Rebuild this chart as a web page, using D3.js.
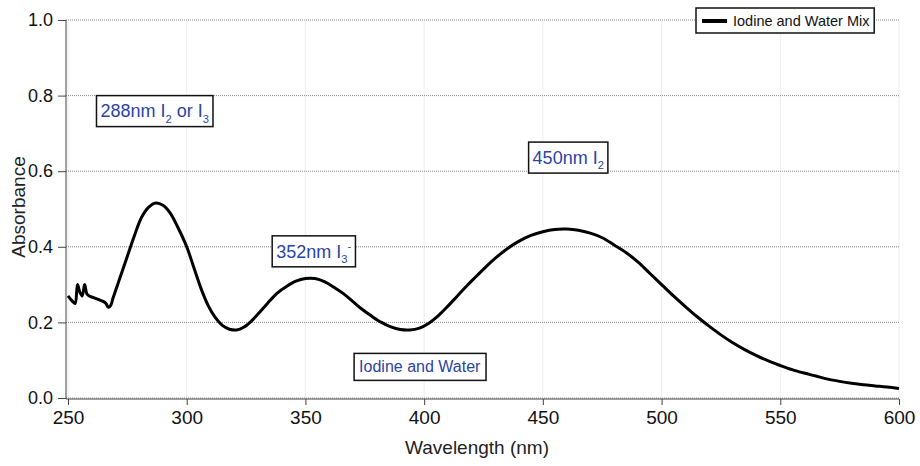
<!DOCTYPE html>
<html>
<head>
<meta charset="utf-8">
<script src="https://cdn.jsdelivr.net/npm/d3@7"></script>
<style>
  body { margin: 0; background: #fff; }
  text { font-family: "Liberation Sans", Arial, sans-serif; }
</style>
</head>
<body>
<svg width="920" height="466"></svg>
<script>
// spectrum
var wavelength = [250, 251, 252, 253, 254, 255, 256, 257, 258, 259, 261, 263, 265, 266, 267, 268, 269, 272, 275, 278,
  281, 284, 287, 290, 293, 296, 300, 303, 306, 309, 312, 315, 318, 321, 324, 327, 330, 334, 338, 342,
  346, 350, 354, 358, 362, 366, 370, 374, 378, 382, 386, 390, 394, 398, 402, 406, 410, 414, 418, 422,
  426, 430, 435, 440, 445, 450, 455, 460, 465, 470, 475, 480, 485, 490, 495, 500, 505, 510, 515, 520,
  525, 530, 535, 540, 545, 550, 555, 560, 565, 570, 575, 580, 585, 590, 595, 600];
var absorbance = [0.27, 0.262, 0.255, 0.25, 0.30, 0.28, 0.27, 0.30, 0.275, 0.27, 0.265, 0.26, 0.255, 0.25, 0.24, 0.245, 0.265, 0.32, 0.375, 0.43,
  0.478, 0.505, 0.516, 0.51, 0.49, 0.455, 0.40, 0.345, 0.29, 0.245, 0.213, 0.192, 0.182, 0.18, 0.187, 0.202, 0.222, 0.25, 0.277, 0.295,
  0.309, 0.316, 0.316, 0.308, 0.293, 0.276, 0.255, 0.234, 0.216, 0.2, 0.188, 0.181, 0.18, 0.185, 0.198, 0.218, 0.243, 0.27, 0.297, 0.322,
  0.347, 0.37, 0.395, 0.415, 0.43, 0.44, 0.446, 0.447, 0.444, 0.436, 0.424, 0.405, 0.385, 0.36, 0.33, 0.30, 0.27, 0.242, 0.215, 0.19,
  0.167, 0.146, 0.128, 0.112, 0.098, 0.086, 0.075, 0.066, 0.058, 0.05, 0.044, 0.039, 0.035, 0.032, 0.029, 0.025];

var xTicks = [250, 300, 350, 400, 450, 500, 550, 600];
var yTicks = [0.0, 0.2, 0.4, 0.6, 0.8, 1.0];

// annotation boxes: [nm, absorbance] of top-left corner, and text parts
var noteX = [262, 336, 444, 370.5];
var noteY = [0.80, 0.429, 0.677, 0.118];
var noteParts = [
  [["288nm I", ""], ["2", "sub"], [" or I", ""], ["3", "sub"]],
  [["352nm I", ""], ["3", "sub"], ["-", "sup"]],
  [["450nm I", ""], ["2", "sub"]],
  [["Iodine and Water", ""]]
];
var noteSize = [18, 18, 18, 16];
var seriesName = "Iodine and Water Mix";

var svg = d3.select("svg"),
    width = +svg.attr("width"),
    height = +svg.attr("height");

var margin = {left: 68, right: 21, top: 20, bottom: 68};

var x = d3.scaleLinear().domain([250, 600]).range([margin.left, width - margin.right]);
var y = d3.scaleLinear().domain([0, 1]).range([height - margin.bottom, margin.top]);

// vertical grid
svg.append("g")
  .selectAll("line")
  .data(xTicks)
  .enter().append("line")
    .attr("x1", function(d) { return x(d); })
    .attr("x2", function(d) { return x(d); })
    .attr("y1", y(1))
    .attr("y2", y(0))
    .style("stroke", "#ededed")
    .style("stroke-width", 1);

// horizontal dotted grid
svg.append("g")
  .selectAll("line")
  .data(yTicks)
  .enter().append("line")
    .attr("x1", margin.left - 2)
    .attr("x2", x(600))
    .attr("y1", function(d) { return y(d); })
    .attr("y2", function(d) { return y(d); })
    .style("stroke", "#8a8a8a")
    .style("stroke-width", 1)
    .style("stroke-dasharray", "1,1");

// x axis
var xAxis = svg.append("g")
  .attr("transform", "translate(0," + (y(0) + 1) + ")")
  .call(d3.axisBottom(x).tickValues(xTicks).tickSize(6).tickPadding(6).tickFormat(d3.format("d")));
xAxis.select(".domain").attr("d", "M" + (margin.left - 2) + ",0H" + x(600)).style("stroke", "#444");
xAxis.selectAll(".tick line").style("stroke", "#444");
xAxis.selectAll("text").style("font-size", "19px").style("fill", "#111");

// y axis
var yAxis = svg.append("g")
  .attr("transform", "translate(" + (margin.left - 2) + ",0)")
  .call(d3.axisLeft(y).tickValues(yTicks).tickSize(8).tickPadding(5).tickFormat(d3.format(".1f")));
yAxis.select(".domain").attr("d", "M0," + y(1) + "V" + (y(0) + 1)).style("stroke", "#444");
yAxis.selectAll(".tick line").style("stroke", "#444");
yAxis.selectAll("text").style("font-size", "18px").style("fill", "#111");

// axis titles
svg.append("text")
  .attr("x", 477)
  .attr("y", 454)
  .attr("text-anchor", "middle")
  .style("font-size", "19px")
  .style("fill", "#222")
  .text("Wavelength (nm)");

svg.append("text")
  .attr("transform", "translate(25," + 207 + ") rotate(-90)")
  .attr("text-anchor", "middle")
  .style("font-size", "19px")
  .style("fill", "#222")
  .text("Absorbance");

// spectrum line
var pts = wavelength.map(function(d, i) { return [d, absorbance[i]]; });
svg.append("path")
  .datum(pts)
  .attr("d", d3.line()
    .x(function(d) { return x(d[0]); })
    .y(function(d) { return y(d[1]); })
    .curve(d3.curveCatmullRom.alpha(0.5)))
  .style("fill", "none")
  .style("stroke", "#000")
  .style("stroke-width", 3)
  .style("stroke-linejoin", "round");

// annotations
noteParts.forEach(function(parts, i) {
  var g = svg.append("g");
  var fs = noteSize[i];
  var pad = i == 3 ? 5 : 4;
  var boxH = i == 3 ? 27 : 31;
  var x0 = x(noteX[i]), y0 = y(noteY[i]);
  var rect = g.append("rect");
  var t = g.append("text")
    .attr("x", x0 + pad)
    .attr("y", y0 + boxH / 2 + fs * 0.35)
    .style("font-size", fs + "px")
    .style("fill", "#2a44a4");
  var prev = 0;
  parts.forEach(function(p) {
    var ts = t.append("tspan").text(p[0]);
    var target = p[1] == "sub" ? fs * 0.3 : (p[1] == "sup" ? -fs * 0.45 : 0);
    if (p[1]) ts.style("font-size", (fs * 0.62) + "px");
    ts.attr("dy", target - prev);
    prev = target;
  });
  var bb = t.node().getBBox();
  rect.attr("x", x0)
    .attr("y", y0)
    .attr("width", bb.width + pad * 2)
    .attr("height", boxH)
    .style("fill", "#fff")
    .style("stroke", "#111")
    .style("stroke-width", 1.5);
});

// legend
var lg = svg.append("g");
var lrect = lg.append("rect");
var ltext = lg.append("text")
  .attr("x", 733)
  .attr("y", 26)
  .style("font-size", "14.5px")
  .style("fill", "#111")
  .text(seriesName);
var lw = ltext.node().getBBox().width;
lrect.attr("x", 696).attr("y", 8)
  .attr("width", 733 - 696 + lw + 4)
  .attr("height", 25)
  .style("fill", "#fff")
  .style("stroke", "#111")
  .style("stroke-width", 1.5);
lg.append("line")
  .attr("x1", 702).attr("x2", 727)
  .attr("y1", 21).attr("y2", 21)
  .style("stroke", "#000")
  .style("stroke-width", 4);
</script>
</body>
</html>
